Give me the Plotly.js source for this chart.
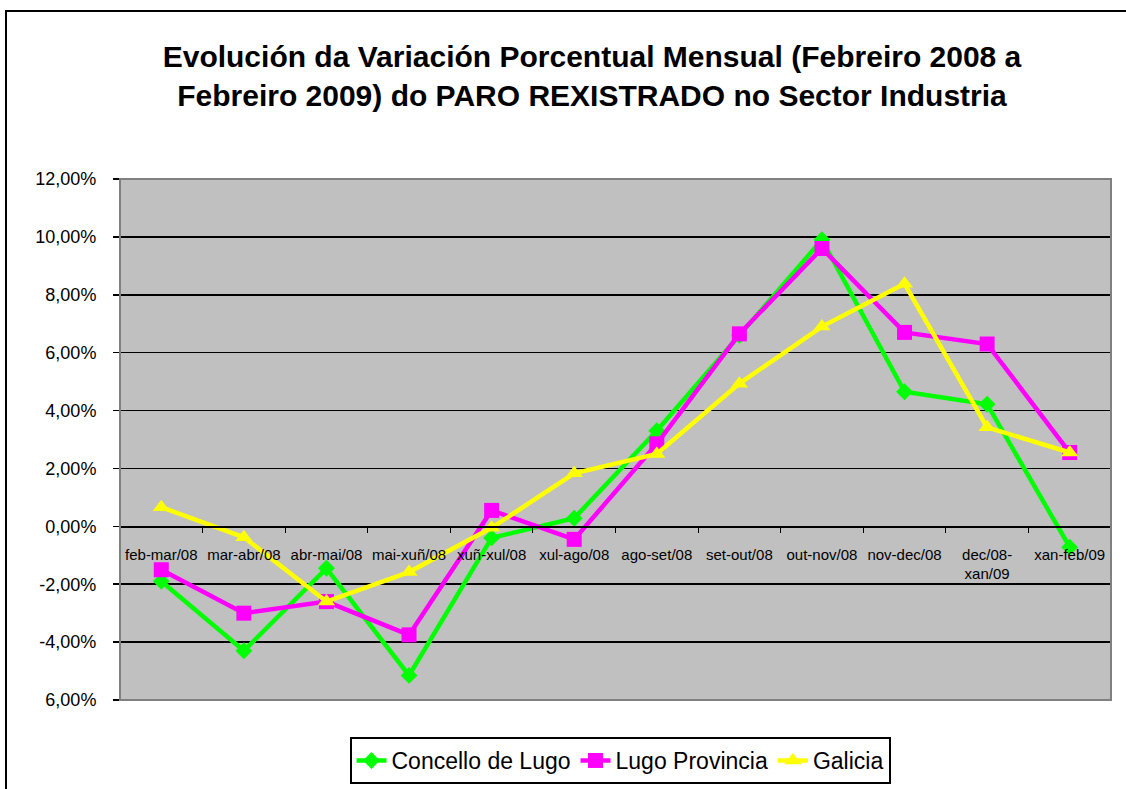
<!DOCTYPE html>
<html>
<head>
<meta charset="utf-8">
<script src="https://cdn.plot.ly/plotly-3.0.1.min.js"></script>
<style>
  html, body { margin: 0; padding: 0; background: #ffffff; }
  #wrap { position: relative; width: 1126px; height: 789px; overflow: hidden; }
  #chart { width: 1126px; height: 789px; }
  #frame { position: absolute; left: 5px; top: 10px; width: 1200px; height: 900px;
           border-left: 2px solid #000; border-top: 2px solid #000; pointer-events: none; }
</style>
</head>
<body>
<div id="wrap">
  <div id="chart"></div>
  <div id="frame"></div>
</div>
<script>
const categories = ["feb-mar/08", "mar-abr/08", "abr-mai/08", "mai-xuñ/08", "xuñ-xul/08", "xul-ago/08",
                    "ago-set/08", "set-out/08", "out-nov/08", "nov-dec/08", "dec/08-<br>xan/09", "xan-feb/09"];
const concelloLugo   = [-1.9, -4.3, -1.45, -5.15, -0.4, 0.28, 3.3, 6.6, 9.9, 4.65, 4.22, -0.72];
const lugoProvincia  = [-1.5, -3.0, -2.6, -3.75, 0.55, -0.45, 2.85, 6.65, 9.6, 6.7, 6.3, 2.55];
const galicia        = [0.66, -0.38, -2.6, -1.58, -0.05, 1.83, 2.5, 4.93, 6.9, 8.38, 3.42, 2.55];
const yTickVals = [-6, -4, -2, 0, 2, 4, 6, 8, 10, 12];
const yTickText = ["6,00%", "-4,00%", "-2,00%", "0,00%", "2,00%", "4,00%", "6,00%", "8,00%", "10,00%", "12,00%"];
const seriesNames = ["Concello de Lugo", "Lugo Provincia", "Galicia"];
const titleText = "Evolución da Variación Porcentual Mensual (Febreiro 2008 a<br>Febreiro 2009) do PARO REXISTRADO no Sector Industria";

const font = "Liberation Sans, Arial, sans-serif";

const traces = [
  { x: categories, y: concelloLugo, name: seriesNames[0], type: "scatter", mode: "lines+markers",
    line: { color: "#00FF00", width: 4.5 }, marker: { symbol: "diamond", size: 13, color: "#00FF00" } },
  { x: categories, y: lugoProvincia, name: seriesNames[1], type: "scatter", mode: "lines+markers",
    line: { color: "#FF00FF", width: 4.5 }, marker: { symbol: "square", size: 15, color: "#FF00FF" } },
  { x: categories, y: galicia, name: seriesNames[2], type: "scatter", mode: "lines+markers",
    line: { color: "#FFFF00", width: 4.5 }, marker: { symbol: "triangle-up", size: 15, color: "#FFFF00" } }
];

const layout = {
  width: 1126, height: 789,
  margin: { l: 120, r: 15, t: 179, b: 89 },
  paper_bgcolor: "#ffffff",
  plot_bgcolor: "#C0C0C0",
  font: { family: font, color: "#000000" },
  title: { text: titleText, x: 592 / 1126, xanchor: "center", xref: "container", y: 1 - 66.5 / 789, yanchor: "middle",
           yref: "container", font: { family: font, size: 30, color: "#000000", weight: "bold" } },
  showlegend: true,
  legend: { orientation: "h", x: 620 / 1126, xanchor: "center", xref: "container",
            y: 1 - 737 / 789, yanchor: "top", yref: "container",
            bordercolor: "#000000", borderwidth: 2, bgcolor: "#ffffff",
            font: { family: font, size: 23, color: "#000000" }, itemclick: false },
  xaxis: {
    type: "category", anchor: "free", position: 1 / 3,
    showline: true, linecolor: "#000000", linewidth: 1.5,
    showgrid: false, zeroline: false, tickangle: 0,
    ticks: "outside", tickson: "boundaries", ticklen: 5, tickcolor: "#000000", tickwidth: 1,
    ticklabelstandoff: 14,
    tickfont: { family: font, size: 15, color: "#000000" },
    range: [-0.5, 11.5], fixedrange: true
  },
  yaxis: {
    range: [-6, 12], tickvals: yTickVals, ticktext: yTickText,
    showgrid: true, gridcolor: "#000000", gridwidth: 1.5,
    zeroline: false, showline: false,
    ticks: "outside", ticklen: 6, tickcolor: "#000000", tickwidth: 1.5,
    ticklabelstandoff: 13,
    tickfont: { family: font, size: 18, color: "#000000" }, fixedrange: true
  },
  shapes: [
    { type: "rect", xref: "paper", yref: "paper", x0: 0, x1: 1, y0: 0, y1: 1,
      line: { color: "#808080", width: 2 }, fillcolor: "rgba(0,0,0,0)", layer: "above" }
  ]
};

Plotly.newPlot("chart", traces, layout, { displayModeBar: false, staticPlot: true });
</script>
</body>
</html>
